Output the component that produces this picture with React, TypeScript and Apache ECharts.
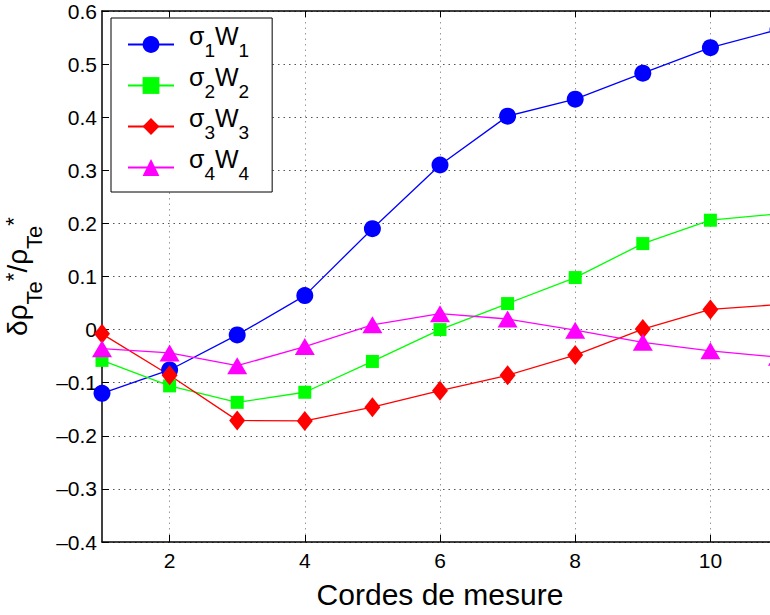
import React, { useEffect, useRef } from 'react';
import * as echarts from 'echarts';

const xValues = [1, 2, 3, 4, 5, 6, 7, 8, 9, 10, 11];
const xTickValues = [2, 4, 6, 8, 10];
const sigma1W1 = [-0.12, -0.076, -0.01, 0.064, 0.19, 0.31, 0.402, 0.434, 0.483, 0.531, 0.565];
const sigma2W2 = [-0.058, -0.106, -0.137, -0.118, -0.06, 0.0, 0.049, 0.098, 0.162, 0.206, 0.218];
const sigma3W3 = [-0.008, -0.086, -0.171, -0.172, -0.146, -0.115, -0.086, -0.048, 0.001, 0.038, 0.047];
const sigma4W4 = [-0.036, -0.044, -0.068, -0.032, 0.009, 0.03, 0.02, -0.001, -0.024, -0.04, -0.052];
const seriesNames = ['σ1W1', 'σ2W2', 'σ3W3', 'σ4W4'];
const seriesValues = [sigma1W1, sigma2W2, sigma3W3, sigma4W4];
const colors = ['#0000ff', '#00ff00', '#ff0000', '#ff00ff'];
const symbols = ['circle', 'rect', 'diamond', 'triangle'];
const symbolSizes: any[] = [17, 13, [16, 20], [20, 17]];

const FONT = '"Liberation Sans", Arial, Helvetica, sans-serif';

function yLabel(v: number): string {
  const r = Math.round(v * 10) / 10;
  if (r === 0) return '0';
  return (r < 0 ? '\u2013' : '') + Math.abs(r).toFixed(1);
}

export default function App() {
  const ref = useRef<HTMLDivElement>(null);
  useEffect(() => {
    const chart = echarts.init(ref.current!, null, { renderer: 'svg' });
    const option: any = {
      animation: false,
      backgroundColor: '#fff',
      textStyle: { fontFamily: FONT, color: '#000' },
      grid: { left: 102, top: 11, right: -8, bottom: 73, show: false, containLabel: false, outerBoundsMode: 'none' },
      legend: {
        orient: 'vertical',
        left: 111,
        top: 18,
        data: seriesNames,
        itemWidth: 46,
        itemHeight: 21,
        itemGap: 4,
        padding: [5, 23, 9, 16],
        borderColor: '#000',
        borderWidth: 1,
        backgroundColor: '#fff',
        selectedMode: false,
        formatter: (name: string) => {
          const i = name.charAt(1);
          return `{m0|σ}{s|${i}}{m|W}{s|${i}}`;
        },
        textStyle: {
          color: '#000',
          fontFamily: FONT,
          rich: {
            m0: { fontSize: 25, fontFamily: FONT, color: '#000', height: 12, lineHeight: 30, verticalAlign: 'top', padding: [0, 0, 0, 10] },
            m: { fontSize: 25, fontFamily: FONT, color: '#000', height: 12, lineHeight: 30, verticalAlign: 'top' },
            s: { fontSize: 19, fontFamily: FONT, color: '#000', height: 18, lineHeight: 30, verticalAlign: 'bottom' },
          },
        },
      },
      xAxis: [
        {
          type: 'value',
          min: 1,
          max: 11,
          position: 'bottom',
          name: 'Cordes de mesure',
          nameLocation: 'middle',
          nameGap: 37,
          nameTextStyle: { fontSize: 30, fontFamily: FONT, color: '#000' },
          axisLine: { show: true, onZero: false, lineStyle: { color: '#000', width: 1.5 } },
          axisTick: { show: true, inside: true, length: 7, customValues: xTickValues, lineStyle: { color: '#000' } },
          axisLabel: { show: true, customValues: xTickValues, fontSize: 21, color: '#000', margin: 8, fontFamily: FONT },
          splitLine: { show: true, lineStyle: { type: [1.5, 4], color: '#999', width: 1 } },
        },
        {
          type: 'value',
          min: 1,
          max: 11,
          position: 'top',
          axisLine: { show: true, onZero: false, lineStyle: { color: '#000', width: 1.5 } },
          axisTick: { show: true, inside: true, length: 6, customValues: xTickValues, lineStyle: { color: '#000' } },
          axisLabel: { show: false },
          splitLine: { show: false },
        },
      ],
      yAxis: {
        type: 'value',
        min: -0.4,
        max: 0.6,
        interval: 0.1,
        name: '{m|δρ}{s|Te}{p|*}{m|/ρ}{s|Te}{p|*}',
        nameLocation: 'middle',
        nameRotate: 90,
        nameGap: 48,
        nameTextStyle: {
          fontFamily: FONT,
          color: '#000',
          rich: {
            m: { fontSize: 28, fontFamily: FONT, color: '#000', lineHeight: 40, verticalAlign: 'middle' },
            s: { fontSize: 22, fontFamily: FONT, color: '#000', height: 6, lineHeight: 40, verticalAlign: 'bottom' },
            p: { fontSize: 22, fontFamily: FONT, color: '#000', height: 33, lineHeight: 40, verticalAlign: 'top' },
          },
        },
        axisLine: { show: true, onZero: false, lineStyle: { color: '#000', width: 1.5 } },
        axisTick: { show: true, inside: true, length: 7, lineStyle: { color: '#000' } },
        axisLabel: { formatter: yLabel, fontSize: 21, color: '#000', margin: 5, fontFamily: FONT },
        splitLine: { show: true, lineStyle: { type: [1.5, 4], color: '#555', width: 1 } },
      },
      series: seriesNames.map((name, k) => ({
        name,
        type: 'line',
        xAxisIndex: 0,
        data: xValues.map((x, i) => [x, seriesValues[k][i]]),
        symbol: symbols[k],
        symbolSize: symbolSizes[k],
        showAllSymbol: true,
        color: colors[k],
        itemStyle: { color: colors[k], opacity: 1 },
        lineStyle: { color: colors[k], width: 1.3 },
        emphasis: { disabled: true },
      })),
    };
    chart.setOption(option);
    return () => chart.dispose();
  }, []);
  return <div ref={ref} style={{ position: 'fixed', left: 0, top: 0, width: 770, height: 615 }} />;
}
